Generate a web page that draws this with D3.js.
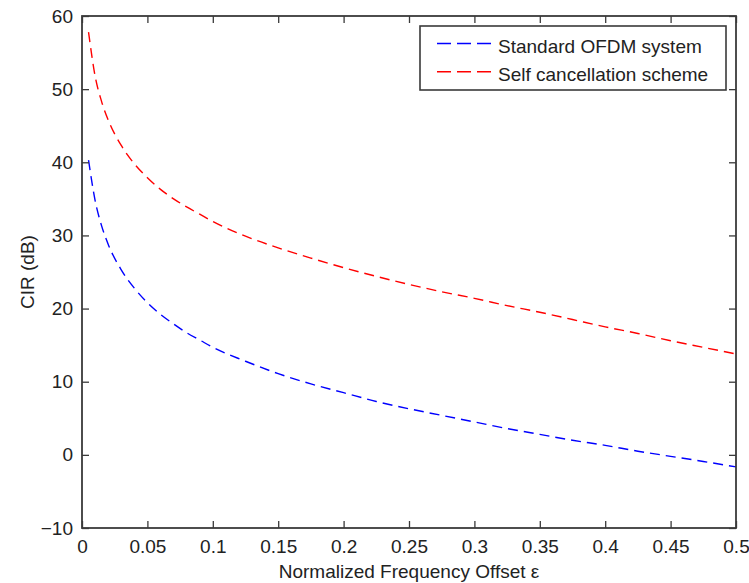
<!DOCTYPE html>
<html>
<head>
<meta charset="utf-8">
<script src="https://cdn.jsdelivr.net/npm/d3@7"></script>
<style>
  html, body { margin: 0; padding: 0; background: #fff; }
  svg { display: block; font-family: "Liberation Sans", Arial, sans-serif; }
</style>
</head>
<body>
<svg id="chart" width="749" height="583"></svg>
<script>
// Normalized frequency offset samples
const epsilon = [0.005, 0.01, 0.015, 0.02, 0.03, 0.04, 0.05, 0.06, 0.07, 0.08, 0.09, 0.1,
  0.125, 0.15, 0.175, 0.2, 0.225, 0.25, 0.275, 0.3, 0.325, 0.35, 0.375, 0.4, 0.425, 0.45, 0.475, 0.5];

// CIR (dB) of the standard OFDM system
const cirStandard = [40.3, 34.8, 31.3, 28.8, 25.3, 22.8, 20.8, 19.2, 17.9, 16.7, 15.7, 14.7,
  12.8, 11.1, 9.7, 8.5, 7.3, 6.3, 5.4, 4.5, 3.6, 2.8, 2.0, 1.3, 0.5, -0.2, -0.9, -1.65];

// CIR (dB) of the ICI self-cancellation scheme
const cirSelfCancel = [57.8, 51.8, 48.3, 45.8, 42.3, 39.8, 37.9, 36.3, 35.0, 33.9, 32.9, 31.9,
  29.9, 28.3, 26.9, 25.6, 24.4, 23.3, 22.3, 21.4, 20.4, 19.5, 18.5, 17.5, 16.6, 15.6, 14.7, 13.8];

const xTicks = [0, 0.05, 0.1, 0.15, 0.2, 0.25, 0.3, 0.35, 0.4, 0.45, 0.5];
const yTicks = [-10, 0, 10, 20, 30, 40, 50, 60];

const seriesNames = ["Standard OFDM system", "Self cancellation scheme"];
const seriesColors = ["#0000ff", "#ff0000"];

(function draw() {
  const svg = d3.select("#chart");
  const plotL = 82, plotR = 736, plotT = 16, plotB = 528;
  const fontSize = 19;
  const axisColor = "#3a3a3a";

  const x = d3.scaleLinear().domain([0, 0.5]).range([plotL, plotR]);
  const y = d3.scaleLinear().domain([-10, 60]).range([plotB, plotT]);

  const fmtX = d => (d === 0 ? "0" : String(d));

  // Curves
  const line = d3.line().x(d => x(d[0])).y(d => y(d[1])).curve(d3.curveMonotoneX);
  [cirStandard, cirSelfCancel].forEach((vals, i) => {
    svg.append("path")
      .datum(epsilon.map((e, k) => [e, vals[k]]))
      .attr("d", line)
      .attr("fill", "none")
      .attr("stroke", seriesColors[i])
      .attr("stroke-width", 1.4)
      .attr("stroke-dasharray", "10,6");
  });

  // Axes: bottom/left carry labels, top/right mirror the ticks (boxed frame)
  const tickLen = 7;
  const gBottom = svg.append("g").attr("transform", `translate(0,${plotB})`)
    .call(d3.axisBottom(x).tickValues(xTicks).tickFormat(fmtX).tickSizeInner(-tickLen).tickSizeOuter(0).tickPadding(12));
  const gTop = svg.append("g").attr("transform", `translate(0,${plotT})`)
    .call(d3.axisTop(x).tickValues(xTicks).tickFormat("").tickSizeInner(-tickLen).tickSizeOuter(0));
  const gLeft = svg.append("g").attr("transform", `translate(${plotL},0)`)
    .call(d3.axisLeft(y).tickValues(yTicks).tickSizeInner(-tickLen).tickSizeOuter(0).tickPadding(9));
  const gRight = svg.append("g").attr("transform", `translate(${plotR},0)`)
    .call(d3.axisRight(y).tickValues(yTicks).tickFormat("").tickSizeInner(-tickLen).tickSizeOuter(0));

  [gBottom, gTop, gLeft, gRight].forEach(g => {
    g.select(".domain").remove();
    g.selectAll(".tick line").attr("stroke", axisColor).attr("stroke-width", 1.3);
    g.selectAll(".tick text").attr("fill", "#222").attr("font-size", fontSize)
      .attr("font-family", "Liberation Sans, Arial, sans-serif");
  });

  // Frame
  svg.append("rect")
    .attr("x", plotL).attr("y", plotT)
    .attr("width", plotR - plotL).attr("height", plotB - plotT)
    .attr("fill", "none").attr("stroke", axisColor).attr("stroke-width", 1.8);

  // Axis titles
  svg.append("text")
    .attr("x", (plotL + plotR) / 2).attr("y", 578)
    .attr("text-anchor", "middle").attr("font-size", fontSize).attr("fill", "#222")
    .text("Normalized Frequency Offset ε");

  svg.append("text")
    .attr("transform", `translate(34,${(plotT + plotB) / 2}) rotate(-90)`)
    .attr("text-anchor", "middle").attr("font-size", fontSize).attr("fill", "#222")
    .text("CIR (dB)");

  // Legend
  const legend = svg.append("g");
  legend.append("rect")
    .attr("x", 420).attr("y", 26).attr("width", 306).attr("height", 64)
    .attr("fill", "#fff").attr("stroke", axisColor).attr("stroke-width", 1.6);
  seriesNames.forEach((name, i) => {
    const cy = 43.5 + i * 28.3;
    legend.append("line")
      .attr("x1", 437).attr("x2", 493).attr("y1", cy).attr("y2", cy)
      .attr("stroke", seriesColors[i]).attr("stroke-width", 1.4)
      .attr("stroke-dasharray", "14,6");
    legend.append("text")
      .attr("x", 498).attr("y", cy + 9.5)
      .attr("font-size", fontSize).attr("fill", "#222")
      .text(name);
  });
})();
</script>
</body>
</html>
